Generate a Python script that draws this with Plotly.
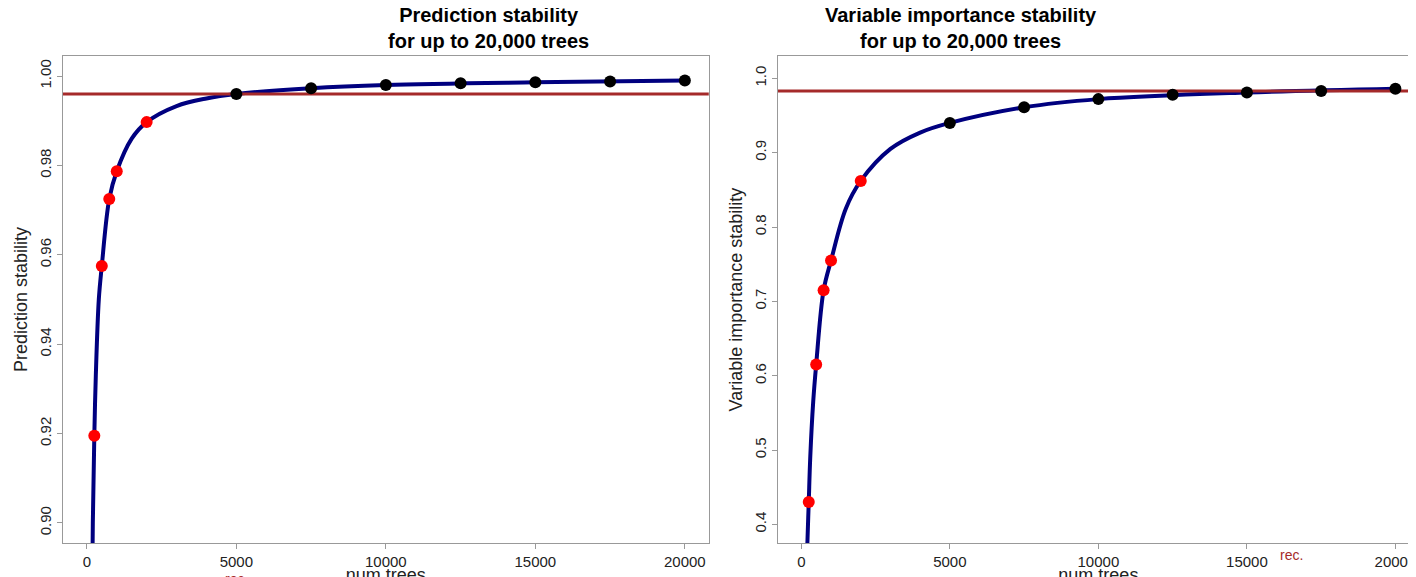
import plotly.graph_objects as go
from plotly.subplots import make_subplots

# measured points (x = number of trees)
ptsX = [250, 500, 750, 1000, 2000, 5000, 7500, 10000, 12500, 15000, 17500, 20000]
predY = [0.9195, 0.9575, 0.9725, 0.9787, 0.9897, 0.9960, 0.9973, 0.9980, 0.9984, 0.9986, 0.9988, 0.9990]
varY = [0.430, 0.615, 0.715, 0.755, 0.862, 0.940, 0.961, 0.972, 0.978, 0.981, 0.983, 0.986]

# fitted curve
curveX = [150, 200, 250, 300, 400, 500, 750, 1000, 1500, 2000, 3000, 4000, 5000, 7500, 10000, 15000, 20000]
predCurve = [0.866, 0.900, 0.9195, 0.933, 0.950, 0.9575, 0.9725, 0.9787, 0.986, 0.9897, 0.9933, 0.995, 0.9960, 0.9973, 0.9980, 0.9986, 0.9990]
varCurveX = [180, 200, 250, 300, 400, 500, 750, 1000, 1500, 2000, 3000, 4000, 5000, 7500, 10000, 15000, 20000]
varCurve = [0.33, 0.37, 0.430, 0.49, 0.565, 0.615, 0.715, 0.755, 0.825, 0.862, 0.905, 0.927, 0.940, 0.961, 0.972, 0.981, 0.986]

xTicks = [0, 5000, 10000, 15000, 20000]
xTickText = ['0', '5000', '10000', '15000', '20000']

predRec = 0.996
varRec = 0.983
predRecX = 5000
varRecX = 16500

RED_CUT = 2000  # points up to here are red

fig = make_subplots(rows=1, cols=2, horizontal_spacing=0.05)

def AddPanel(col, cx, cy, py, rec):
	fig.add_trace(go.Scatter(x=cx, y=cy, mode='lines', line=dict(color='#00007f', width=4, shape='spline'),
		showlegend=False, hoverinfo='skip'), row=1, col=col)
	fig.add_trace(go.Scatter(x=[-1000, 22000], y=[rec, rec], mode='lines', line=dict(color='#a52a2a', width=3),
		showlegend=False), row=1, col=col)
	colors = ['#ff0000' if x <= RED_CUT else '#000000' for x in ptsX]
	fig.add_trace(go.Scatter(x=ptsX, y=py, mode='markers', marker=dict(color=colors, size=12),
		showlegend=False), row=1, col=col)

AddPanel(1, curveX, predCurve, predY, predRec)
AddPanel(2, varCurveX, varCurve, varY, varRec)

axStyle = dict(showline=True, mirror=True, linecolor='#999999', linewidth=1, ticks='outside',
	tickcolor='#999999', showgrid=False, zeroline=False, tickfont=dict(size=15, color='#222'))
fig.update_xaxes(range=[-800, 20800], tickvals=xTicks, ticktext=xTickText,
	title=dict(text='num.trees', font=dict(size=18, color='#222'), standoff=0), **axStyle)
fig.update_xaxes(domain=[0.032, 0.492], row=1, col=1)
fig.update_xaxes(domain=[0.541, 0.998], row=1, col=2)
fig.update_yaxes(tickangle=-90, **axStyle)
fig.update_yaxes(range=[0.8955, 1.0045], tickvals=[0.90, 0.92, 0.94, 0.96, 0.98, 1.00], tickformat='.2f',
	title=dict(text='Prediction stability', font=dict(size=18, color='#222'), standoff=4), row=1, col=1)
fig.update_yaxes(range=[0.375, 1.03], tickvals=[0.4, 0.5, 0.6, 0.7, 0.8, 0.9, 1.0], tickformat='.1f',
	title=dict(text='Variable importance stability', font=dict(size=18, color='#222'), standoff=4), row=1, col=2)

fig.add_annotation(x=predRecX, y=0, xref='x', yref='paper', yshift=-26, yanchor='top', text='rec.',
	showarrow=False, font=dict(size=14, color='#a52a2a'))
fig.add_annotation(x=varRecX, y=0, xref='x2', yref='paper', yshift=-2, yanchor='top', text='rec.',
	showarrow=False, font=dict(size=14, color='#a52a2a'))
for xc, t in [(0.262, 'Prediction stability'), (0.77, 'Variable importance stability')]:
	fig.add_annotation(x=xc, y=1, xref='paper', yref='paper', yshift=2, yanchor='bottom', showarrow=False,
		text='<b>' + t + '<br>for up to 20,000 trees</b>', font=dict(size=20, color='#000'))

fig.update_layout(width=1416, height=577, plot_bgcolor='white', paper_bgcolor='white',
	font=dict(family='Liberation Sans, Arial'), margin=dict(l=10, r=2, t=48, b=42))

fig.write_html('out.html')
